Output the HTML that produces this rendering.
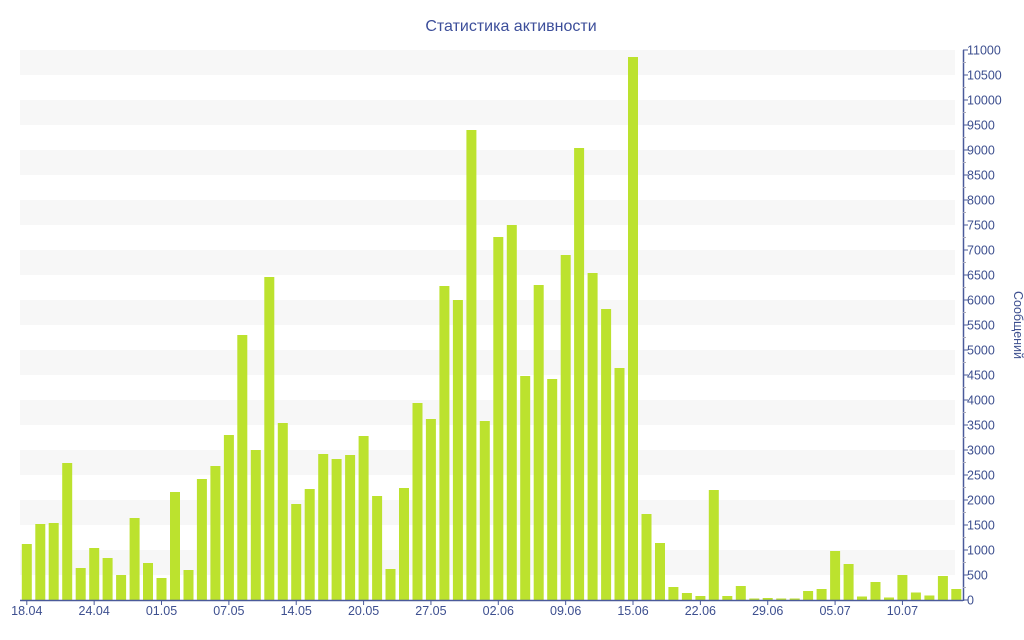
<!DOCTYPE html>
<html><head><meta charset="utf-8">
<style>
html,body{margin:0;padding:0;background:#fff;}
svg{display:block;font-family:"Liberation Sans","DejaVu Sans",sans-serif;}
</style></head>
<body>
<svg id="c" width="1024" height="640" viewBox="0 0 1024 640" xmlns="http://www.w3.org/2000/svg">
<text x="511" y="31" text-anchor="middle" font-size="16" fill="#3c4e9a">Статистика активности</text>
<g id="bands"></g>
<g id="bars" fill="#bce22e"></g>
<line x1="20" y1="600.5" x2="963" y2="600.5" stroke="#4a5a9a" stroke-width="1.5"/>
<line x1="963.5" y1="50" x2="963.5" y2="601" stroke="#4a5a9a" stroke-width="1.5"/>
<g id="yax" font-size="12.5" fill="#3d4f8f"></g>
<g id="xax" font-size="12.5" fill="#3d4f8f" text-anchor="middle"></g>
<text transform="translate(1014,325) rotate(90)" text-anchor="middle" font-size="12.5" fill="#3d4f8f">Сообщений</text>
</svg>
<script>
var NS="http://www.w3.org/2000/svg";
function el(p,t,a,txt){var e=document.createElementNS(NS,t);for(var k in a)e.setAttribute(k,a[k]);if(txt!=null)e.textContent=txt;p.appendChild(e);return e;}
var v=[1120,1520,1540,2740,640,1040,840,500,1640,740,440,2160,600,2420,2680,3300,5300,3000,6460,3540,1920,2220,2920,2820,2900,3280,2080,620,2240,3940,3620,6280,6000,9400,3580,7260,7500,4480,6300,4420,6900,9040,6540,5820,4640,10860,1720,1140,260,140,80,2200,80,280,30,40,30,30,180,220,980,720,70,360,50,500,150,90,480,220];
var bands=document.getElementById('bands');
for(var i=0;i<22;i+=2){el(bands,'rect',{x:20,y:50+i*25,width:935,height:25,fill:'#f7f7f7'});}
var bars=document.getElementById('bars');
var step=943/70;
for(var i=0;i<v.length;i++){var h=v[i]*0.05;var x=20+i*step+1.8;el(bars,'rect',{x:x.toFixed(1),y:(600-h).toFixed(1),width:10,height:h.toFixed(1)});}
var ya=document.getElementById('yax');
for(var k=0;k<=22;k++){var y=600-k*25;el(ya,'line',{x1:963,y1:y,x2:968,y2:y,stroke:'#4a5a9a'});if(k>0)el(ya,'line',{x1:963,y1:y+12.5,x2:966,y2:y+12.5,stroke:'#aab'});el(ya,'text',{x:967,y:y+4.5},String(k*500));}
var xa=document.getElementById('xax');
var lab=['18.04','24.04','01.05','07.05','14.05','20.05','27.05','02.06','09.06','15.06','22.06','29.06','05.07','10.07'];
for(var j=0;j<lab.length;j++){var cx=20+(j*5)*step+6.8;el(xa,'line',{x1:cx,y1:600,x2:cx,y2:605,stroke:'#4a5a9a'});el(xa,'text',{x:cx,y:615},lab[j]);}
</script>
</body></html>
